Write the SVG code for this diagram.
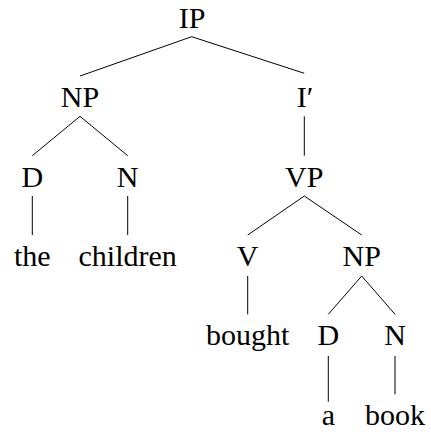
<svg xmlns="http://www.w3.org/2000/svg" width="431" height="435" viewBox="0 0 431 435">
  <rect width="431" height="435" fill="#fff"/>
  <!-- tree edges -->
  <g id="connectors" stroke="#000" stroke-width="1" fill="none">
    <line x1="191.7" y1="36.7" x2="80" y2="76"/>
    <line x1="191.7" y1="36.7" x2="304.3" y2="73.3"/>
    <line x1="80" y1="116.3" x2="32.3" y2="155.7"/>
    <line x1="80" y1="116.3" x2="127.7" y2="155.7"/>
    <line x1="304.3" y1="116.3" x2="304.3" y2="155.7"/>
    <line x1="32.3" y1="196" x2="32.3" y2="235"/>
    <line x1="127.7" y1="196" x2="127.7" y2="235"/>
    <line x1="304.3" y1="196" x2="247.7" y2="235"/>
    <line x1="304.3" y1="196" x2="361.7" y2="235"/>
    <line x1="247.7" y1="276" x2="247.7" y2="314.3"/>
    <line x1="361.7" y1="276" x2="328.3" y2="314.3"/>
    <line x1="361.7" y1="276" x2="395" y2="314.3"/>
    <line x1="328.3" y1="356" x2="328.3" y2="401.7"/>
    <line x1="395" y1="356" x2="395" y2="394.3"/>
  </g>
  <!-- node labels -->
  <g id="ip"><text font-family="Liberation Serif" font-size="30" text-anchor="middle" x="192" y="28">IP</text></g>
  <g id="np1"><text font-family="Liberation Serif" font-size="30" text-anchor="middle" x="80" y="106.7">NP</text></g>
  <g id="ibar"><text font-family="Liberation Serif" font-size="30" text-anchor="middle" x="305" y="106.7">I′</text></g>
  <g id="d1"><text font-family="Liberation Serif" font-size="30" text-anchor="middle" x="32.3" y="186.7">D</text></g>
  <g id="n1"><text font-family="Liberation Serif" font-size="30" text-anchor="middle" x="127.7" y="186.7">N</text></g>
  <g id="vp"><text font-family="Liberation Serif" font-size="30" text-anchor="middle" x="304.3" y="186.7">VP</text></g>
  <g id="the"><text font-family="Liberation Serif" font-size="30" text-anchor="middle" x="32.3" y="265.7">the</text></g>
  <g id="children"><text font-family="Liberation Serif" font-size="30" text-anchor="middle" x="127.7" y="265.7">children</text></g>
  <g id="v"><text font-family="Liberation Serif" font-size="30" text-anchor="middle" x="247.7" y="265.7">V</text></g>
  <g id="np2"><text font-family="Liberation Serif" font-size="30" text-anchor="middle" x="361.7" y="265.7">NP</text></g>
  <g id="bought"><text font-family="Liberation Serif" font-size="30" text-anchor="middle" x="247.7" y="345">bought</text></g>
  <g id="d2"><text font-family="Liberation Serif" font-size="30" text-anchor="middle" x="328.3" y="345">D</text></g>
  <g id="n2"><text font-family="Liberation Serif" font-size="30" text-anchor="middle" x="395" y="345">N</text></g>
  <g id="a"><text font-family="Liberation Serif" font-size="30" text-anchor="middle" x="328.3" y="425">a</text></g>
  <g id="book"><text font-family="Liberation Serif" font-size="30" text-anchor="middle" x="395" y="425">book</text></g>
</svg>
